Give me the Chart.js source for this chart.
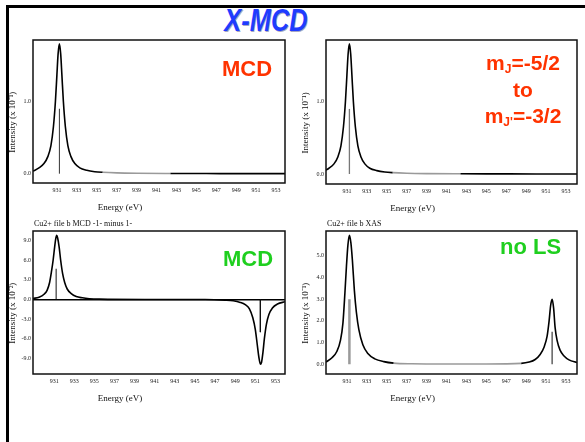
<!DOCTYPE html>
<html>
<head>
<meta charset="utf-8">
<title>X-MCD</title>
<script src="https://cdn.jsdelivr.net/npm/chart.js@4/dist/chart.umd.min.js"></script>
<style>
    body { margin: 0; width: 585px; height: 442px; background: #fff; position: relative; overflow: hidden; font-family: "Liberation Sans", Arial, sans-serif; }
    .slide { position: absolute; left: 6px; top: 5px; width: 600px; height: 460px; border-left: 3px solid #000; border-top: 3px solid #000; }
    canvas { position: absolute; }
    .note { position: absolute; font-weight: bold; white-space: nowrap; }
    .title { position: absolute; left: 166px; top: 5px; width: 200px; text-align: center; font: italic bold 31px/31px "Liberation Sans", Arial, sans-serif; color: #1f3cff; transform: scaleX(0.82); text-shadow: 1px 1px 0 rgba(0, 0, 80, 0.35); }
    .red { color: #ff3300; font-size: 22px; line-height: 22px; }
    .green { color: #1fcf1f; font-size: 22px; line-height: 22px; }
    .mj { left: 463px; top: 50px; width: 120px; text-align: center; font-size: 21px; line-height: 26.5px; }
    .mj sub { font-size: 12px; vertical-align: -3px; line-height: 0; }
</style>
</head>
<body>
<div class="slide"></div>
<div class="title">X-MCD</div>

<canvas id="tl" width="291" height="195"></canvas>
<canvas id="tr" width="290" height="196"></canvas>
<canvas id="bl" width="291" height="195"></canvas>
<canvas id="br" width="290" height="195"></canvas>

<div class="note red" style="left:222px;top:58px;">MCD</div>
<div class="note red mj">m<sub>J</sub>=-5/2<br>to<br>m<sub>J'</sub>=-3/2</div>
<div class="note green" style="left:223px;top:248px;">MCD</div>
<div class="note green" style="left:500px;top:236px;">no LS</div>

<script>
// energy ticks shared by every panel (eV)
const xTicks = [931, 933, 935, 937, 939, 941, 943, 945, 947, 949, 951, 953];

// top panels: same L3 line in both (x 10^-1)
const topEnergy = [928.6, 929.2, 929.7, 930.1, 930.4, 930.65, 930.85, 931.0, 931.12, 931.25, 931.38, 931.5, 931.65, 931.85, 932.1, 932.4, 932.8, 933.3, 934.0, 934.8, 935.6, 937.0, 939.0, 942.4, 946.0, 950.0, 954.1];
const topIntensity = [0.035, 0.08, 0.14, 0.24, 0.39, 0.65, 1.0, 1.37, 1.66, 1.8, 1.66, 1.37, 1.0, 0.65, 0.39, 0.24, 0.14, 0.08, 0.047, 0.028, 0.019, 0.011, 0.006, 0.003, 0.002, 0.001, 0.001];
const topStickEnergy = [931.25];
const topStickHeight = [0.9];
const topYTicks = [0, 1];

// bottom left: MCD (x 10^-2)
const mcdEnergy = [928.9, 929.5, 930.0, 930.3, 930.55, 930.75, 930.9, 931.05, 931.15, 931.25, 931.35, 931.5, 931.65, 931.85, 932.05, 932.3, 932.7, 933.2, 933.8, 934.5, 935.5, 940.0, 946.0, 948.0, 948.8, 949.5, 950.0, 950.4, 950.75, 951.0, 951.2, 951.35, 951.5, 951.62, 951.75, 951.9, 952.1, 952.35, 952.7, 953.2, 953.95];
const mcdIntensity = [0.15, 0.35, 0.8, 1.4, 2.6, 4.4, 6.0, 8.0, 9.2, 9.8, 9.4, 8.0, 6.0, 3.9, 2.6, 1.6, 0.9, 0.45, 0.25, 0.12, 0.05, 0.0, 0.0, -0.1, -0.2, -0.45, -0.8, -1.4, -2.8, -4.6, -7.0, -8.8, -9.9, -9.6, -8.2, -6.0, -3.8, -2.3, -1.3, -0.7, -0.35];
const mcdStickEnergy = [931.2, 951.5];
const mcdStickHeight = [4.7, -5.0];
const mcdYTicks = [-9, -6, -3, 0, 3, 6, 9];

// bottom right: XAS (x 10^-1)
const xasEnergy = [928.9, 929.5, 930.0, 930.35, 930.6, 930.8, 930.95, 931.1, 931.25, 931.4, 931.55, 931.75, 931.95, 932.2, 932.6, 933.1, 933.8, 934.7, 935.7, 937.5, 941.0, 945.0, 948.5, 949.3, 949.9, 950.4, 950.8, 951.1, 951.3, 951.45, 951.6, 951.75, 951.9, 952.1, 952.4, 952.8, 953.3, 954.1];
const xasIntensity = [0.1, 0.3, 0.6, 1.1, 1.9, 3.3, 4.5, 5.5, 5.95, 5.6, 4.8, 3.4, 2.4, 1.6, 0.9, 0.5, 0.25, 0.12, 0.05, 0.02, 0.01, 0.01, 0.04, 0.1, 0.22, 0.45, 0.8, 1.3, 2.0, 2.7, 3.0, 2.6, 1.7, 1.1, 0.65, 0.38, 0.2, 0.08];
const xasStickEnergy = [931.25, 951.6];
const xasStickHeight = [3.0, 1.5];
const xasYTicks = [0, 1, 2, 3, 4, 5];

const Y_AXIS_W = 33;
const PAD_TOP = 18;
const X_AXIS_H = 34;

const panels = [
    { id: 'tl', frame: [33, 40, 285, 183], xMin: 928.6, xMax: 953.9, yMin: -0.129, yMax: 1.853,
      energy: topEnergy, intensity: topIntensity, stickE: topStickEnergy, stickH: topStickHeight,
      yTicks: topYTicks, stickColor: ['#333'], stickWidth: [1], gray: [935.6, 942.4],
      yTitle: 'Intensity (x 10\u207B\u00B9)', subtitle: '' },
    { id: 'tr', frame: [326, 40, 577, 184], xMin: 928.9, xMax: 954.1, yMin: -0.138, yMax: 1.853,
      energy: topEnergy, intensity: topIntensity, stickE: topStickEnergy, stickH: topStickHeight,
      yTicks: topYTicks, stickColor: ['#777'], stickWidth: [1.3], gray: [935.6, 942.4],
      yTitle: 'Intensity (x 10\u207B\u00B9)', subtitle: '' },
    { id: 'bl', frame: [33, 231, 285, 374], xMin: 928.9, xMax: 953.95, yMin: -11.4, yMax: 10.47,
      energy: mcdEnergy, intensity: mcdIntensity, stickE: mcdStickEnergy, stickH: mcdStickHeight,
      yTicks: mcdYTicks, stickColor: ['#111', '#111'], stickWidth: [1, 1], gray: null, zeroLine: true,
      yTitle: 'Intensity (x 10\u207B\u00B2)', subtitle: 'Cu2+ file b MCD -1- minus 1-' },
    { id: 'br', frame: [326, 231, 577, 374], xMin: 928.9, xMax: 954.1, yMin: -0.45, yMax: 6.15,
      energy: xasEnergy, intensity: xasIntensity, stickE: xasStickEnergy, stickH: xasStickHeight,
      yTicks: xasYTicks, stickColor: ['#9a9a9a', '#111'], stickWidth: [2.5, 1], gray: [935.7, 948.5],
      yTitle: 'Intensity (x 10\u207B\u00B9)', subtitle: 'Cu2+ file b XAS' }
];

// frame box, axis titles and the small caption above the box
const panelDecor = {
    id: 'panelDecor',
    afterDraw(chart, args, opts) {
        const { ctx, chartArea: a } = chart;
        const w = a.right - a.left;
        const h = a.bottom - a.top;
        ctx.save();
        ctx.strokeStyle = '#111';
        ctx.lineWidth = 1.5;
        ctx.strokeRect(a.left, a.top, w, h);

        ctx.fillStyle = '#111';
        ctx.font = '9px "Liberation Serif", "Times New Roman", serif';
        ctx.textAlign = 'center';
        ctx.textBaseline = 'middle';
        ctx.fillText('Energy (eV)', a.left + 0.345 * w, a.bottom + 25);

        if (opts.subtitle) {
            ctx.font = '8px "Liberation Serif", "Times New Roman", serif';
            ctx.textAlign = 'left';
            ctx.fillText(opts.subtitle, a.left + 1, a.top - 7);
        }

        ctx.font = '9px "Liberation Serif", "Times New Roman", serif';
        ctx.textAlign = 'center';
        ctx.translate(a.left - 20, a.top + 0.575 * h);
        ctx.rotate(-Math.PI / 2);
        ctx.fillText(opts.yTitle, 0, 0);
        ctx.restore();
    }
};

panels.forEach(p => {
    const [l, t, r, b] = p.frame;
    const canvas = document.getElementById(p.id);
    canvas.style.left = (l - Y_AXIS_W) + 'px';
    canvas.style.top = (t - PAD_TOP) + 'px';
    canvas.width = (r - l) + Y_AXIS_W + 6;
    canvas.height = (b - t) + PAD_TOP + X_AXIS_H;

    const curve = p.energy.map((e, i) => ({ x: e, y: p.intensity[i] }));
    const gray = p.gray;

    const datasets = [{
        data: curve,
        borderColor: '#000',
        borderWidth: 1.6,
        pointRadius: 0,
        cubicInterpolationMode: 'monotone',
        segment: {
            borderColor: ctx => (gray && ctx.p0.parsed.x >= gray[0] && ctx.p1.parsed.x <= gray[1]) ? '#9a9a9a' : '#000'
        }
    }];

    p.stickE.forEach((e, i) => {
        datasets.push({
            data: [{ x: e, y: 0 }, { x: e, y: p.stickH[i] }],
            borderColor: p.stickColor[i],
            borderWidth: p.stickWidth[i],
            pointRadius: 0
        });
    });

    new Chart(canvas.getContext('2d'), {
        type: 'line',
        data: { datasets },
        options: {
            responsive: false,
            animation: false,
            devicePixelRatio: 1,
            layout: { padding: { top: PAD_TOP, right: 6, left: 0, bottom: 0 } },
            plugins: {
                legend: { display: false },
                tooltip: { enabled: false },
                panelDecor: { yTitle: p.yTitle, subtitle: p.subtitle }
            },
            scales: {
                x: {
                    type: 'linear',
                    min: p.xMin,
                    max: p.xMax,
                    afterBuildTicks: scale => { scale.ticks = xTicks.map(v => ({ value: v })); },
                    afterFit: scale => { scale.height = X_AXIS_H; },
                    grid: { display: false, drawTicks: false },
                    border: { display: false },
                    ticks: {
                        padding: 4,
                        maxRotation: 0,
                        autoSkip: false,
                        color: '#222',
                        font: { family: '"Liberation Serif", serif', size: 6 },
                        callback: v => String(v)
                    }
                },
                y: {
                    min: p.yMin,
                    max: p.yMax,
                    afterBuildTicks: scale => { scale.ticks = p.yTicks.map(v => ({ value: v })); },
                    afterFit: scale => { scale.width = Y_AXIS_W; },
                    grid: {
                        display: !!p.zeroLine,
                        drawTicks: false,
                        lineWidth: 1.5,
                        color: ctx => (ctx.tick && ctx.tick.value === 0) ? '#000' : 'rgba(0,0,0,0)'
                    },
                    border: { display: false },
                    ticks: {
                        padding: 2,
                        color: '#222',
                        font: { family: '"Liberation Serif", serif', size: 6 },
                        callback: v => v.toFixed(1)
                    }
                }
            }
        },
        plugins: [panelDecor]
    });
});
</script>
</body>
</html>
